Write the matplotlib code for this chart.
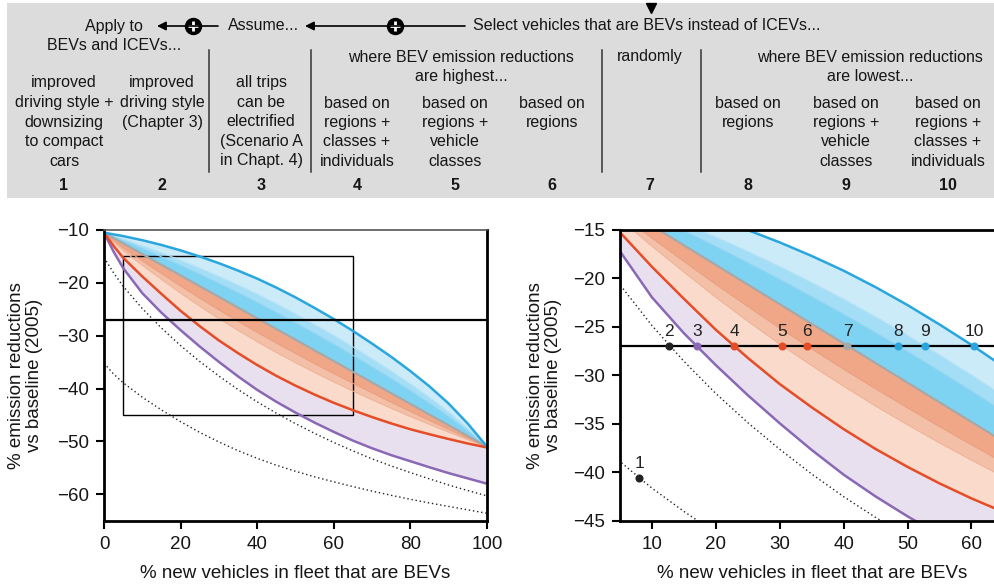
import matplotlib
matplotlib.use("Agg")
import matplotlib.pyplot as plt
from matplotlib.patches import Rectangle

plt.rcParams['font.family'] = ['Liberation Sans', 'DejaVu Sans']

# ---------------------------------------------------------------- data
# share of new vehicles in the fleet that are BEVs (%)
bev_share = [0, 2.5, 5, 10, 15, 20, 25, 30, 35, 40, 45, 50,
             55, 60, 65, 70, 75, 80, 85, 90, 95, 100]

# emission change vs 2005 baseline (%) for each scenario
s1_downsizing = [-35.2, -37.25, -38.9, -41.64, -44.04, -46.27, -48.3, -50.1, -51.75, -53.2, -54.5,
                 -55.65, -56.7, -57.65, -58.55, -59.4, -60.2, -60.95, -61.65, -62.3, -62.95, -63.6]
s2_driving = [-15.2, -18.1, -20.65, -24.86, -28.55, -31.88, -34.88, -37.63, -40.18, -42.52, -44.66,
              -46.64, -48.48, -50.2, -51.8, -53.3, -54.65, -55.9, -57.1, -58.25, -59.3, -60.3]
s3_all_trips = [-10.5, -14.1, -17.2, -21.95, -25.65, -28.95, -32.05, -34.95, -37.7, -40.25, -42.5,
                -44.55, -46.45, -48.2, -49.85, -51.3, -52.6, -53.75, -54.9, -56.0, -57.0, -58.0]
s4_high_rci = [-10.5, -13.0, -15.25, -18.8, -22.1, -25.3, -28.2, -30.9, -33.3, -35.55, -37.6,
               -39.45, -41.15, -42.7, -44.1, -45.4, -46.6, -47.7, -48.65, -49.55, -50.4, -51.15]
s5_high_rv = [-10.5, -12.26, -13.89, -16.68, -19.34, -21.95, -24.42, -26.78, -28.99, -31.13, -33.17,
              -35.1, -36.97, -38.75, -40.47, -42.13, -43.74, -45.3, -46.79, -48.25, -49.69, -51.08]
s6_high_r = [-10.5, -11.96, -13.35, -15.83, -18.24, -20.61, -22.9, -25.13, -27.27, -29.36, -31.39,
             -33.36, -35.29, -37.17, -39.01, -40.82, -42.6, -44.34, -46.05, -47.73, -49.41, -51.05]
s7_random = [-10.5, -11.51, -12.53, -14.55, -16.58, -18.6, -20.63, -22.65, -24.68, -26.7, -28.73,
             -30.75, -32.78, -34.8, -36.83, -38.85, -40.88, -42.9, -44.93, -46.95, -48.98, -51.0]
s8_low_r = [-10.5, -11.24, -11.98, -13.5, -15.08, -16.7, -18.38, -20.1, -21.88, -23.7, -25.6,
            -27.55, -29.57, -31.62, -33.74, -35.91, -38.13, -40.42, -42.8, -45.31, -48.05, -51.0]
s9_low_rv = [-10.5, -11.1, -11.69, -12.95, -14.29, -15.71, -17.2, -18.76, -20.41, -22.12, -23.95,
             -25.87, -27.88, -29.95, -32.11, -34.37, -36.68, -39.12, -41.68, -44.45, -47.56, -51.0]
s10_low_rci = [-10.5, -10.83, -11.15, -11.93, -12.83, -13.86, -15.01, -16.28, -17.68, -19.2, -20.9,
               -22.75, -24.75, -26.85, -29.1, -31.5, -34.0, -36.7, -39.6, -42.85, -46.65, -51.0]

# BEV share needed to reach the -27 % target in each scenario
target = -27
target_labels = ['2', '3', '4', '5', '6', '7', '8', '9', '10']
target_share = [12.7, 17.1, 22.9, 30.4, 34.2, 40.6, 48.5, 52.8, 60.4]
s1_point = (8.0, -40.6)

# header text
header_top = [("Apply to\nBEVs and ICEVs...", 114, 26),
              ("Assume...", 264, 26),
              ("Select vehicles that are BEVs instead of ICEVs...", 647, 26)]
group_text = [("where BEV emission reductions\nare highest...", 461),
              ("randomly", 650),
              ("where BEV emission reductions\nare lowest...", 870)]
col_text = ["improved\ndriving style +\ndownsizing\nto compact\ncars",
            "improved\ndriving style\n(Chapter 3)",
            "all trips\ncan be\nelectrified\n(Scenario A\nin Chapt. 4)",
            "based on\nregions +\nclasses +\nindividuals",
            "based on\nregions +\nvehicle\nclasses",
            "based on\nregions",
            "",
            "based on\nregions",
            "based on\nregions +\nvehicle\nclasses",
            "based on\nregions +\nclasses +\nindividuals"]
col_numbers = ['1', '2', '3', '4', '5', '6', '7', '8', '9', '10']

# ---------------------------------------------------------------- style
C_PURPLE = '#8a68b4'
C_RED = '#e64c25'
C_BLUE = '#2aa6de'
C_GREY = '#a8a8a8'
F_LAV = '#e9e0ef'
F_PEACH1 = '#f9dacb'
F_PEACH2 = '#f3bfa6'
F_PEACH3 = '#efa787'
F_BLUE1 = '#7ed3f3'
F_BLUE2 = '#a4def6'
F_BLUE3 = '#ccebf8'
TXT = '#161616'

W, H = 994, 585
fig = plt.figure(figsize=(W / 100, H / 100), dpi=100)

# ---------------------------------------------------------------- header
hdr = fig.add_axes([0, 0, 1, 1])
hdr.set_xlim(0, W)
hdr.set_ylim(H, 0)
hdr.axis('off')
hdr.add_patch(Rectangle((7, 3), W - 7, 195, facecolor='#dcdcdc', edgecolor='none'))

LINE = 19.5
HFS = 11.5


def block(text, x, y0, **kw):
    for i, line in enumerate(text.split('\n')):
        hdr.text(x, y0 + i * LINE, line, ha='center', va='center', fontsize=HFS,
                 color=TXT, **kw)


for text, x, y in header_top:
    block(text, x, y)
for text, x in group_text:
    block(text, x, 57)

col_x = [64, 162, 261, 357, 455, 552, 650, 748, 846, 948]
for i, (text, num, x) in enumerate(zip(col_text, col_numbers, col_x)):
    if text:
        block(text, x, 83 if i < 3 else 103)
    hdr.text(x, 185, num, ha='center', va='center', fontsize=HFS,
             fontweight='bold', color=TXT)

for xs in (209, 311, 602, 701):
    hdr.plot([xs, xs], [50, 172], color='#333333', lw=1.1)

for x_tip, x_end, x_circ in ((157, 218, 193), (305, 465, 395)):
    hdr.annotate('', xy=(x_tip, 26), xytext=(x_end, 26),
                 arrowprops=dict(arrowstyle='-|>', color='black', lw=1.2,
                                 mutation_scale=13, shrinkA=0, shrinkB=0))
    hdr.plot(x_circ, 26, 'o', ms=11.5, color='black')
    hdr.plot(x_circ, 26, '+', ms=7, mew=2.0, color='white')
hdr.plot(651, 8, 'v', ms=7.5, color='black')


# ---------------------------------------------------------------- panels
def draw_bands(ax):
    x = bev_share
    ax.fill_between(x, s3_all_trips, s4_high_rci, color=F_LAV, lw=0)
    ax.fill_between(x, s4_high_rci, s5_high_rv, color=F_PEACH1, lw=0)
    ax.fill_between(x, s5_high_rv, s6_high_r, color=F_PEACH2, lw=0)
    ax.fill_between(x, s6_high_r, s7_random, color=F_PEACH3, lw=0)
    ax.fill_between(x, s7_random, s8_low_r, color=F_BLUE1, lw=0)
    ax.fill_between(x, s8_low_r, s9_low_rv, color=F_BLUE2, lw=0)
    ax.fill_between(x, s9_low_rv, s10_low_rci, color=F_BLUE3, lw=0)
    ax.plot(x, s5_high_rv, color='#efb498', lw=0.8)
    ax.plot(x, s6_high_r, color='#eaa080', lw=0.8)
    ax.plot(x, s8_low_r, color='#8fd2f0', lw=0.8)
    ax.plot(x, s9_low_rv, color='#b5e1f5', lw=0.8)
    ax.plot(x, s7_random, color=C_GREY, lw=1.6)
    ax.plot(x, s3_all_trips, color=C_PURPLE, lw=1.8, solid_joinstyle='round')
    ax.plot(x, s4_high_rci, color=C_RED, lw=1.8, solid_joinstyle='round')
    ax.plot(x, s10_low_rci, color=C_BLUE, lw=1.8, solid_joinstyle='round')
    ax.plot(x, s1_downsizing, color='#222222', lw=1.0, ls=(0, (1, 2)))
    ax.plot(x, s2_driving, color='#222222', lw=1.0, ls=(0, (1, 2)))


def style(ax):
    ax.tick_params(direction='out', length=6, width=1.5, labelsize=13.5, pad=5,
                   color='black', labelcolor=TXT)
    for s in ('left', 'bottom'):
        ax.spines[s].set_linewidth(2)
        ax.spines[s].set_color('black')
    ax.set_xlabel('% new vehicles in fleet that are BEVs', fontsize=13.5, color=TXT)
    ax.set_ylabel('% emission reductions\nvs baseline (2005)', fontsize=13.5,
                  color=TXT, linespacing=1.1)


y0 = 1 - 520.7 / H
hgt = 290.7 / H

# overview panel
ax1 = fig.add_axes([104 / W, y0, 383 / W, hgt])
draw_bands(ax1)
ax1.plot([0, 100], [target, target], color='black', lw=1.6)
ax1.add_patch(Rectangle((5, -45), 60, 30, fill=False, edgecolor='black', lw=1.0))
ax1.set_xlim(0, 100)
ax1.set_ylim(-65, -10)
ax1.set_xticks([0, 20, 40, 60, 80, 100])
ax1.set_yticks([-10, -20, -30, -40, -50, -60])
style(ax1)
ax1.spines['right'].set_linewidth(2)
ax1.spines['right'].set_color('black')
ax1.spines['top'].set_linewidth(1.2)
ax1.spines['top'].set_color('#555555')
ax1.xaxis.set_label_coords(0.5, -0.152)
ax1.yaxis.set_label_coords(-0.159, 0.5)

# zoomed panel
ax2 = fig.add_axes([620 / W, y0, 383.4 / W, hgt])
draw_bands(ax2)
ax2.plot([5, 65], [target, target], color='black', lw=1.6)
ax2.set_xlim(5, 65)
ax2.set_ylim(-45, -15)
ax2.set_xticks([10, 20, 30, 40, 50, 60])
ax2.set_yticks([-15, -20, -25, -30, -35, -40, -45])
style(ax2)
ax2.spines['top'].set_linewidth(2)
ax2.spines['top'].set_color('black')
ax2.spines['right'].set_linewidth(2)
ax2.spines['right'].set_color('black')
ax2.xaxis.set_label_coords(0.5, -0.152)
ax2.yaxis.set_label_coords(-0.151, 0.5)

marker_colors = ['#222222', C_PURPLE, C_RED, C_RED, C_RED, C_GREY, C_BLUE, C_BLUE, C_BLUE]
for lab, xs, col in zip(target_labels, target_share, marker_colors):
    ax2.plot(xs, target, 'o', ms=4.8, color=col, zorder=5)
    ax2.annotate(lab, (xs, target), xytext=(0, 10.5), textcoords='offset points',
                 ha='center', va='center', fontsize=12.5, color='#222222')
ax2.plot(*s1_point, 'o', ms=4.8, color='#222222', zorder=5)
ax2.annotate('1', s1_point, xytext=(0, 10.5), textcoords='offset points',
             ha='center', va='center', fontsize=12.5, color='#222222')

fig.savefig('out.png', dpi=100)
